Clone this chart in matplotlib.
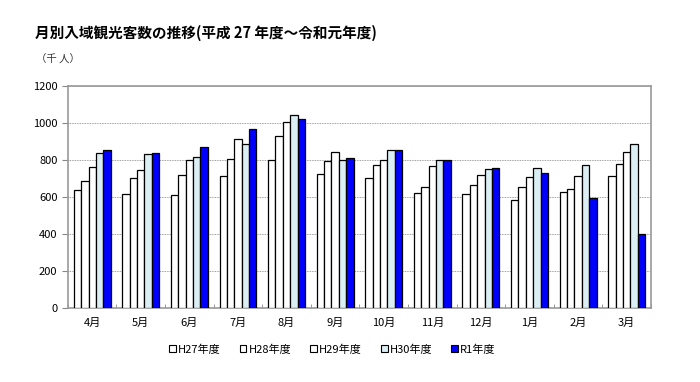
import matplotlib.pyplot as plt
import numpy as np
from matplotlib.patches import Patch

plt.rcParams["font.family"] = ["Noto Sans CJK JP", "DejaVu Sans"]

months = ["4月", "5月", "6月", "7月", "8月", "9月", "10月", "11月", "12月", "1月", "2月", "3月"]
series_names = ["H27年度", "H28年度", "H29年度", "H30年度", "R1年度"]
h27 = [638, 616, 611, 715, 802, 726, 701, 622, 618, 584, 625, 712]
h28 = [686, 701, 719, 807, 928, 796, 771, 654, 665, 656, 643, 780]
h29 = [762, 744, 802, 912, 1005, 841, 802, 766, 721, 706, 715, 841]
h30 = [838, 834, 814, 888, 1045, 802, 852, 800, 751, 757, 773, 888]
r1 = [854, 836, 870, 967, 1023, 813, 854, 800, 755, 730, 595, 398]
colors = ["white", "white", "white", "#daeef3", "#0000ff"]

fig = plt.figure(figsize=(7, 3.82), dpi=100)
ax = fig.add_axes([0.097, 0.194, 0.833, 0.581])

x = np.arange(len(months))
width = 0.152
for i, (vals, col) in enumerate(zip([h27, h28, h29, h30, r1], colors)):
    ax.bar(x + (i - 2) * width, vals, width, color=col, edgecolor="black",
           linewidth=0.9, zorder=3)

ax.set_xlim(-0.5, len(months) - 0.5)
ax.set_ylim(0, 1200)
ax.set_yticks(range(0, 1201, 200))
ax.yaxis.grid(True, color="#808080", linestyle=(0, (1, 1)), linewidth=0.6, zorder=0)

ax.set_xticks(x)
ax.set_xticklabels(months, fontsize=8)
ax.set_xticks(np.arange(-0.5, len(months)), minor=True)
ax.tick_params(axis="x", which="major", length=0, pad=7)
ax.tick_params(axis="x", which="minor", direction="in", length=3, color="#888888")
ax.tick_params(axis="y", direction="out", length=4, color="#888888", labelsize=8)
for s in ax.spines.values():
    s.set_color("#999999")
    s.set_linewidth(1.2)

fig.text(0.05, 0.9, "月別入域観光客数の推移(平成 27 年度～令和元年度)",
         fontsize=10.5, fontweight="bold")
fig.text(0.052, 0.835, "（千 人）", fontsize=7.5, color="#333333")

handles = [Patch(facecolor=c, edgecolor="black", linewidth=0.8) for c in colors]
fig.legend(handles, series_names, loc="center", bbox_to_anchor=(0.475, 0.085),
           ncol=5, frameon=False, fontsize=8, handlelength=0.6, handleheight=0.6,
           handletextpad=0.2, columnspacing=1.7)

fig.savefig("out.png", dpi=100, facecolor="white")
